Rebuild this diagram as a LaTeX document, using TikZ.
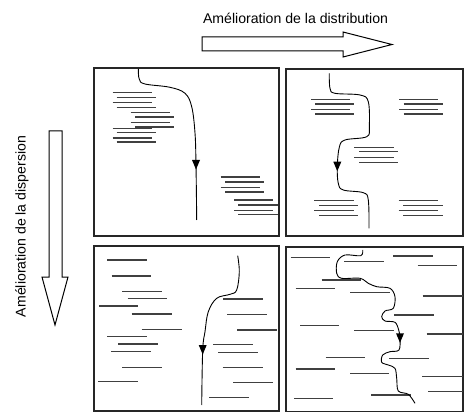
\documentclass[tikz,border=0pt]{standalone}
\usepackage{fontspec}
\setmainfont{Liberation Sans}
\begin{document}
\begin{tikzpicture}[x=1pt,y=-1pt,
  panel/.style={draw=black!85,line width=1.2pt},
  seg/.style={draw=black!75,line width=1.15pt},
  curve/.style={draw=black,line width=0.9pt},
  bigarrow/.style={draw=black,line width=1pt,fill=white},
  lbl/.style={font=\fontsize{14.1}{16}\selectfont,inner sep=0pt}]
\useasboundingbox (0,0) rectangle (464,412);
% labels
\node[lbl] (tdist) at (295.5,18) {Amélioration de la distribution};
\node[lbl,rotate=90] (tdisp) at (22,226.5) {Amélioration de la dispersion};
% big arrows
\draw[bigarrow] (202,37) -- (343,37) -- (343,32) -- (392,44.5) -- (343,57) -- (343,51) -- (202,51) -- cycle;
\draw[bigarrow] (49,131) -- (62,131) -- (62,277) -- (68,277) -- (55,325) -- (42,277) -- (49,277) -- cycle;
% panels
\draw[panel] (94,68) rectangle (279,236);
\draw[panel] (286,69) rectangle (463,236);
\draw[panel] (94,246) rectangle (279,411);
\draw[panel] (286,247) rectangle (463,411.4);
\newcommand\myhead[2]{\fill (#1-4,#2-5) -- (#1+4,#2-5) -- (#1,#2+4.5) -- cycle;}
% ---- top-left
\foreach \y/\a/\b in {92.7/112.7/151.7, 97.3/116.7/156, 102.7/112.7/151.7, 107.3/116.7/156,
  112.3/130.7/170, 117/135/174, 122.3/130.7/170, 127/135/174, 128.3/112.7/151.7,
  132.3/116.7/156, 138/112.7/151.7, 142/116.7/156,
  177/220.7/260, 182/225/264.3, 187.3/220.7/260, 192/225/264.3,
  200/234/273.3, 205/238.3/277.7, 210.3/234/273.3, 214.7/238.3/277.7}
  \draw[seg] (\a,\y) -- (\b,\y);
\draw[curve] plot[smooth,tension=0.6] coordinates {(138.3,69) (139.3,79.3) (145,84) (170,87.3) (185,93.3) (191.7,106.7) (195,133) (196,165) (196.7,220)};
\myhead{196}{165}
% ---- top-right
\foreach \y/\a/\b in {99.3/311/350, 104/315.3/354, 109.3/311/350, 114/315.3/354,
  99.3/399.3/438.3, 104/403.7/443.3, 109.3/399.3/438.3, 114/403.7/443.3,
  147.3/354/394, 151.7/359/398.3, 157.3/354/394, 162.3/359/398.3,
  200.7/314.3/354, 205.3/319/358.3, 210.7/314.3/354, 215.7/319/358.3,
  200.7/398.7/438.3, 205.3/403.3/443.3, 210.7/398.7/438.3, 215.7/403.3/443.3}
  \draw[seg] (\a,\y) -- (\b,\y);
\draw[curve] plot[smooth,tension=0.6] coordinates {(329.3,73.3) (330,88.3) (335,93.3) (360,95) (368.3,101.7) (369.3,126.7) (366.7,136.7) (345,140) (339.3,147.3) (337.3,166.7) (338.3,183.3) (343.3,190) (363.3,192.7) (368.3,200) (369,228.3)};
\myhead{337.3}{166.7}
% ---- bottom-left
\foreach \y/\a/\b in {260/107.3/147.3, 276/111.7/151, 291.7/122.3/161.7, 298.3/127.7/167.3,
  306/99/138.3, 314/131.7/171.7, 329.3/141.7/181.7, 336.3/107.3/146.7, 344/118.3/158.3,
  351.7/111/151, 367.3/122/161.7, 381.7/98.3/138.3,
  299/223.3/262.7, 314.3/227.3/267.3, 330/237.3/277.3, 344.3/213.3/253.3,
  352.3/218.3/258.3, 367.7/222.7/262.7, 382.3/233.3/272.7, 397.7/209.3/248.7}
  \draw[seg] (\a,\y) -- (\b,\y);
\draw[curve] plot[smooth,tension=0.6] coordinates {(237.7,255.7) (239.3,271.7) (236.7,290) (230,294.3) (216.7,298.3) (208.3,311.7) (205,331.7) (202.7,350) (201.7,405)};
\myhead{202.7}{350}
% ---- bottom-right
\foreach \y/\a/\b in {257.7/290.7/330, 261.7/344.3/384, 256/393.3/433.3, 265.7/417.7/457.3,
  280/321.7/361, 288.3/295.7/335, 292.3/350/390, 296/422.7/462.7, 315/394/434,
  325.7/300/339.3, 330.7/354/394, 334/426.7/463, 357.7/325.7/365, 358.3/389/429,
  369/295.7/335, 373.3/350/389.3, 376.7/422.3/462.7, 391.7/428.3/463, 395/371/410.7,
  398.3/294/333.3}
  \draw[seg] (\a,\y) -- (\b,\y);
\draw[curve] plot[smooth,tension=0.55] coordinates {(362.7,250) (360.7,255.7) (345,255) (337.3,261.7) (336.7,273.3) (341.7,278.3) (360,278.3) (368.3,283.3) (376.7,286.7) (390,288.3) (395,296.7) (393.3,308.3) (385,311) (381.7,316.7) (385,321) (395,322.3) (398.7,330) (400,338.3) (399,350) (390,351.7) (382.7,355) (381.7,362.3) (388.3,365) (395,368.3) (396.7,378.3) (398.3,391) (408.3,394.3) (415,403.3)};
\myhead{400}{338.3}
\end{tikzpicture}
\end{document}
